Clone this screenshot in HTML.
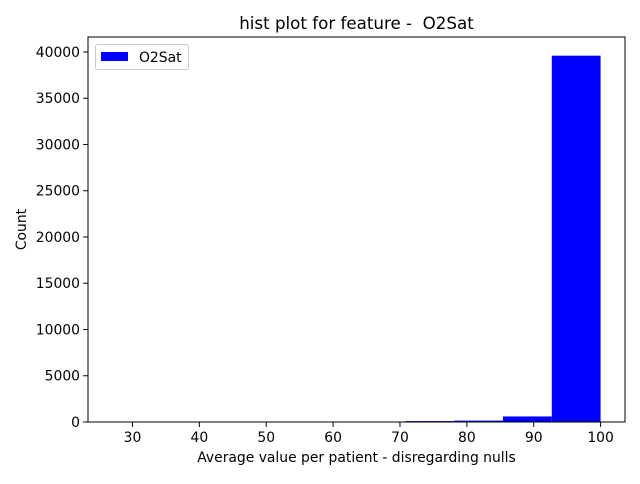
<!DOCTYPE html>
<html><head><meta charset="utf-8"><style>
body{margin:0;background:#fff;font-family:"DejaVu Sans","Liberation Sans",sans-serif}
text{white-space:pre}
</style></head><body>
<svg id="chart" width="640" height="480" xmlns="http://www.w3.org/2000/svg" font-family="DejaVu Sans, Liberation Sans, sans-serif">
<rect width="640" height="480" fill="#fff"/>
<g id="plot"></g>
</svg>
<script>
const binEdges = [27, 34.3, 41.6, 48.9, 56.2, 63.5, 70.8, 78.1, 85.4, 92.7, 100];
const counts = [5, 3, 5, 8, 12, 20, 100, 150, 600, 39600];
const xTicks = [30, 40, 50, 60, 70, 80, 90, 100];
const yTicks = [0, 5000, 10000, 15000, 20000, 25000, 30000, 35000, 40000];

const L=88, R=625, T=37, B=422;
const xMin=23.35, xMax=103.65, yMin=0, yMax=41620;
const X=v=>L+(v-xMin)/(xMax-xMin)*(R-L);
const Y=v=>B-(v-yMin)/(yMax-yMin)*(B-T);
const NS="http://www.w3.org/2000/svg";
const g=document.getElementById('plot');
function mk(tag,attrs,txt){const e=document.createElementNS(NS,tag);for(const k in attrs)e.setAttribute(k,attrs[k]);if(txt!==undefined)e.textContent=txt;g.appendChild(e);return e;}

for(let i=0;i<counts.length;i++){
  const x0=X(binEdges[i]),x1=X(binEdges[i+1]),y=Y(counts[i]);
  const r=mk('rect',{x:x0,y:y,width:x1-x0,height:B-y,fill:'#0000ff'});
  
  
}
const frame=mk('rect',{x:L,y:T,width:R-L,height:B-T,fill:'none',stroke:'#000','stroke-width':1});



xTicks.forEach(v=>{
  const x=X(v);
  const t=mk('line',{x1:x,x2:x,y1:B,y2:B+4.9,stroke:'#000'});
  
  
  const l=mk('text',{x:x,y:B+20,'font-size':13.9,'text-anchor':'middle',fill:'#000'},String(v));
  
  
});
yTicks.forEach(v=>{
  const y=Y(v);
  const t=mk('line',{x1:L-4.9,x2:L,y1:y,y2:y,stroke:'#000'});
  
  
  const l=mk('text',{x:L-8,y:y+5,'font-size':13.9,'text-anchor':'end',fill:'#000'},String(v));
  
  
});
const title=mk('text',{x:(L+R)/2,y:29,'font-size':16.7,'text-anchor':'middle'},'hist plot for feature -  O2Sat');


const xl=mk('text',{x:(L+R)/2,y:462,'font-size':13.9,'text-anchor':'middle'},'Average value per patient - disregarding nulls');


const yl=mk('text',{x:26,y:(T+B)/2,'font-size':13.9,'text-anchor':'middle',transform:'rotate(-90 26 '+((T+B)/2)+')'},'Count');


const lb=mk('rect',{x:95.5,y:44.5,width:93,height:25,rx:2,fill:'#fff',stroke:'#ccc'});


const ls=mk('rect',{x:101,y:52,width:27,height:9,fill:'#0000ff'});


const lt=mk('text',{x:139,y:62,'font-size':13.9},'O2Sat');


</script>
</body></html>
